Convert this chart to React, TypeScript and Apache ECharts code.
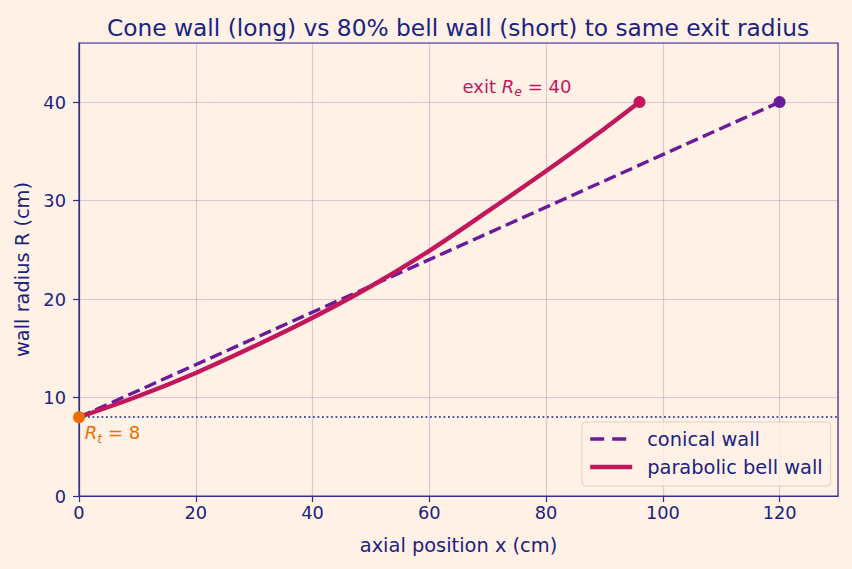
import React, { useEffect, useRef } from "react";
import * as echarts from "echarts";

const coneX = [0, 120];
const coneR = [8, 40];
const bellX = [0, 10, 20, 30, 40, 50, 60, 70, 80, 90, 96];
const bellR = [8, 10.1, 12.5, 15.2, 18.1, 21.3, 24.9, 28.9, 33.0, 37.3, 40];
const throatR = 8;
const exitPoints: [number, number][] = [[96, 40], [120, 40]];
const xTicks = [0, 20, 40, 60, 80, 100, 120];
const yTicks = [0, 10, 20, 30, 40];

const BG = "#fff1e6";
const NAVY = "#1a237e";
const AXIS = "#2e3192";
const PURPLE = "#6a1b9a";
const CRIMSON = "#c2185b";
const ORANGE = "#ef6c00";
const FONT = "DejaVu Sans";

export default function App() {
  const ref = useRef<HTMLDivElement>(null);
  useEffect(() => {
    document.body.style.margin = "0";
    const chart = echarts.init(ref.current!, null, { renderer: "svg" });
    const sub = { fontSize: 12.5, lineHeight: 12, verticalAlign: "bottom" as const, fontStyle: "italic" as const };
    chart.setOption({
      animation: false,
      backgroundColor: BG,
      textStyle: { fontFamily: FONT },
      title: {
        text: "Cone wall (long) vs 80% bell wall (short) to same exit radius",
        left: 453,
        textAlign: "center",
        top: 11,
        textStyle: { fontFamily: FONT, fontSize: 23.3, fontWeight: "normal", color: NAVY },
      },
      grid: { left: 79, right: 14, top: 43, bottom: 73, show: true, borderColor: AXIS, borderWidth: 1.2, backgroundColor: BG },
      xAxis: {
        type: "value",
        min: 0,
        max: 130,
        interval: 20,
        name: "axial position x (cm)",
        nameLocation: "middle",
        nameGap: 40,
        nameTextStyle: { fontFamily: FONT, fontSize: 19.4, color: NAVY },
        axisLine: { show: true, lineStyle: { color: AXIS, width: 1.2 } },
        axisTick: { show: true, length: 6, lineStyle: { color: AXIS, width: 1.2 } },
        axisLabel: {
          fontFamily: FONT, fontSize: 17.8, color: NAVY, margin: 7, showMaxLabel: false,
          formatter: (v: number) => (xTicks.includes(v) ? String(v) : ""),
        },
        splitLine: { show: true, lineStyle: { color: "rgba(106,27,154,0.2)", width: 1.2 } },
      },
      yAxis: {
        type: "value",
        min: 0,
        max: 46,
        interval: 10,
        name: "wall radius R (cm)",
        nameLocation: "middle",
        nameGap: 47,
        nameTextStyle: { fontFamily: FONT, fontSize: 19.4, color: NAVY },
        axisLine: { show: true, lineStyle: { color: AXIS, width: 1.2 } },
        axisTick: { show: true, length: 6, lineStyle: { color: AXIS, width: 1.2 } },
        axisLabel: {
          fontFamily: FONT, fontSize: 17.8, color: NAVY, margin: 13, showMaxLabel: false,
          formatter: (v: number) => (yTicks.includes(v) ? String(v) : ""),
        },
        splitLine: { show: true, lineStyle: { color: "rgba(106,27,154,0.2)", width: 1.2 } },
      },
      legend: {
        data: [
          { name: "conical wall", lineStyle: { width: 3.4, type: [14, 8], color: PURPLE } },
          { name: "parabolic bell wall", lineStyle: { width: 4.4, color: CRIMSON } },
        ],
        orient: "vertical",
        left: 582,
        top: 422,
        itemWidth: 42,
        itemHeight: 14,
        itemGap: 8,
        padding: [7, 8, 9, 6],
        backgroundColor: "rgba(255,241,230,0.8)",
        borderColor: "#ddd2ca",
        borderWidth: 1,
        borderRadius: 4,
        itemStyle: { opacity: 0 },
        textStyle: { fontFamily: FONT, fontSize: 19.4, lineHeight: 20, color: NAVY, padding: [0, 0, 0, 10] },
      },
      series: [
        {
          name: "conical wall",
          type: "line",
          data: coneX.map((x, i) => [x, coneR[i]]),
          symbol: "none",
          lineStyle: { color: PURPLE, width: 3.4, type: [12.5, 5.5] },
          itemStyle: { color: PURPLE },
          z: 3,
          markLine: {
            silent: true,
            symbol: "none",
            label: { show: false },
            lineStyle: { color: NAVY, type: [1.8, 2.7], width: 1.6 },
            data: [{ yAxis: throatR }],
          },
        },
        {
          name: "parabolic bell wall",
          type: "line",
          data: bellX.map((x, i) => [x, bellR[i]]),
          symbol: "none",
          smooth: 0.3,
          lineStyle: { color: CRIMSON, width: 4.4 },
          itemStyle: { color: CRIMSON },
          z: 4,
        },
        {
          type: "scatter",
          data: [
            { value: exitPoints[0], itemStyle: { color: CRIMSON, opacity: 1 } },
            { value: exitPoints[1], itemStyle: { color: PURPLE, opacity: 1 } },
            { value: [0, throatR], itemStyle: { color: ORANGE, opacity: 1 } },
          ],
          symbolSize: 12,
          itemStyle: { opacity: 1 },
          z: 6,
        },
        {
          type: "scatter",
          symbolSize: 0,
          silent: true,
          itemStyle: { opacity: 1 },
          z: 7,
          data: [
            {
              value: [65.7, 41.6],
              label: {
                show: true,
                position: "right",
                distance: 0,
                opacity: 1,
                formatter: "{n|exit }{i|R}{s|e}{n| = 40}",
                rich: {
                  n: { fontFamily: FONT, fontSize: 18, color: CRIMSON, lineHeight: 24 },
                  i: { fontFamily: FONT, fontSize: 18, color: CRIMSON, lineHeight: 24, fontStyle: "italic" },
                  s: { ...sub, fontFamily: FONT, color: CRIMSON },
                },
              },
            },
            {
              value: [1, 6.4],
              label: {
                show: true,
                position: "right",
                distance: 0,
                opacity: 1,
                formatter: "{i|R}{s|t}{n| = 8}",
                rich: {
                  n: { fontFamily: FONT, fontSize: 18, color: ORANGE, lineHeight: 24 },
                  i: { fontFamily: FONT, fontSize: 18, color: ORANGE, lineHeight: 24, fontStyle: "italic" },
                  s: { ...sub, fontFamily: FONT, color: ORANGE },
                },
              },
            },
          ],
        },
      ],
    });
    return () => chart.dispose();
  }, []);
  return <div ref={ref} style={{ width: 852, height: 569, background: BG }} />;
}
